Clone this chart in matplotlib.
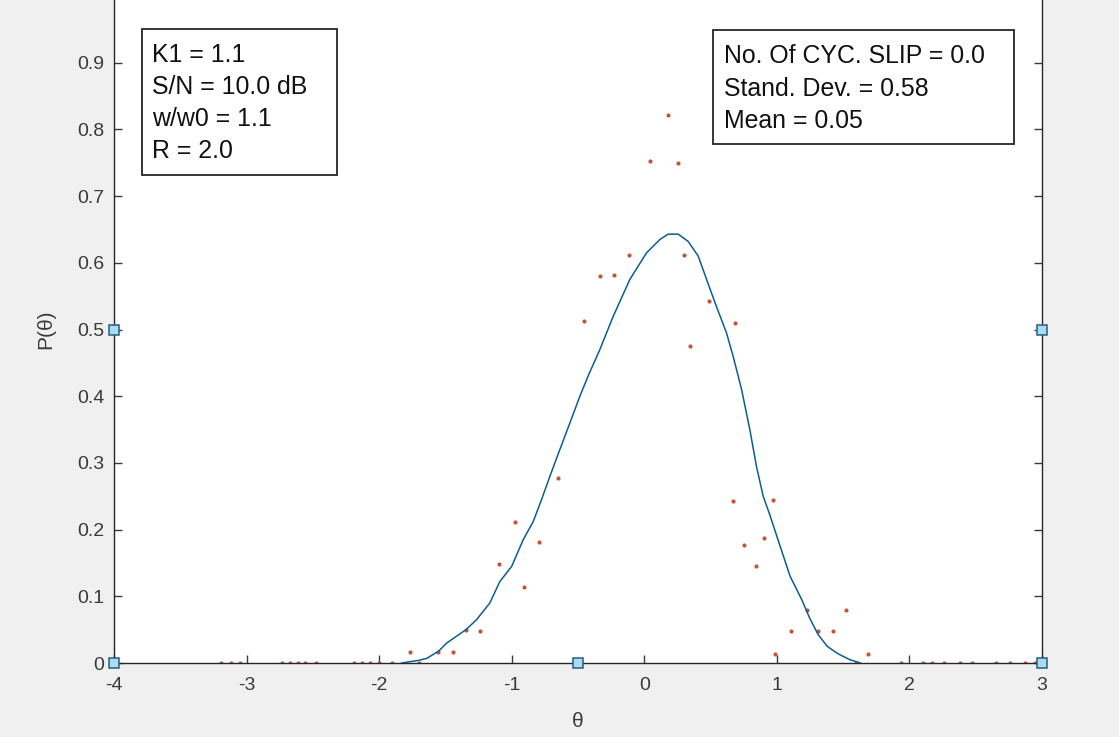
import matplotlib
matplotlib.use("Agg")
import matplotlib.pyplot as plt
from matplotlib.patches import Rectangle

plt.rcParams['font.family'] = ['Liberation Sans', 'DejaVu Sans']

# ---- data ----
curve_theta = [-1.83, -1.70, -1.64, -1.55, -1.49, -1.345, -1.265, -1.165, -1.09, -1.00,
               -0.913, -0.838, -0.775, -0.712, -0.637, -0.561, -0.486, -0.42, -0.335,
               -0.234, -0.109, 0.017, 0.118, 0.18, 0.256, 0.331, 0.407, 0.47, 0.545,
               0.62, 0.67, 0.734, 0.796, 0.847, 0.897, 0.947, 1.00, 1.05, 1.10, 1.19,
               1.246, 1.31, 1.38, 1.46, 1.55, 1.63]
curve_p = [0.0, 0.004, 0.007, 0.018, 0.030, 0.050, 0.065, 0.090, 0.122, 0.145,
           0.185, 0.212, 0.245, 0.280, 0.320, 0.360, 0.400, 0.432, 0.470,
           0.520, 0.575, 0.615, 0.635, 0.643, 0.643, 0.632, 0.610, 0.575, 0.534,
           0.495, 0.460, 0.410, 0.350, 0.294, 0.250, 0.222, 0.190, 0.160, 0.130, 0.094,
           0.068, 0.043, 0.025, 0.014, 0.005, 0.0]

dots_theta = [0.18, 0.042, 0.253, -0.116, -0.337, -0.227, 0.296, -0.458, 0.487, 0.688,
              0.346, -0.654, -0.976, -0.795, -1.097, -0.906, -1.238, -1.345, -1.768,
              -1.559, -1.446, 0.670, 0.751, 0.902, 0.844, 0.97, 0.987, 1.106, 1.23,
              1.313, 1.42, 1.52, 1.69,
              -3.19, -3.12, -3.05, -2.73, -2.67, -2.61, -2.56, -2.48, -2.19, -2.13,
              -2.07, -2.00, -1.90, -1.70, 1.60, 1.94, 2.10, 2.17, 2.26, 2.38, 2.47,
              2.65, 2.76, 2.87, 2.95]
dots_p = [0.822, 0.752, 0.750, 0.612, 0.580, 0.582, 0.612, 0.512, 0.543, 0.510,
          0.475, 0.277, 0.212, 0.181, 0.148, 0.114, 0.048, 0.050, 0.017,
          0.017, 0.017, 0.243, 0.177, 0.188, 0.145, 0.245, 0.013, 0.048, 0.080,
          0.048, 0.048, 0.080, 0.014,
          0, 0, 0, 0, 0, 0, 0, 0, 0, 0,
          0, 0, 0, 0, 0, 0, 0, 0, 0, 0, 0,
          0, 0, 0, 0]

marker_theta = [-4, -0.5, 3, -4, 3]
marker_p = [0, 0, 0, 0.5, 0.5]

xticks = [-4, -3, -2, -1, 0, 1, 2, 3]
yticks = [0, 0.1, 0.2, 0.3, 0.4, 0.5, 0.6, 0.7, 0.8, 0.9]
ytick_labels = ['0', '0.1', '0.2', '0.3', '0.4', '0.5', '0.6', '0.7', '0.8', '0.9']

box1_lines = ['K1 = 1.1', 'S/N = 10.0 dB', 'w/w0 = 1.1', 'R = 2.0']
box2_lines = ['No. Of CYC. SLIP = 0.0', 'Stand. Dev. = 0.58', 'Mean = 0.05']

# ---- figure ----
W, H = 1119, 737
fig = plt.figure(figsize=(W / 100, H / 100), dpi=100, facecolor='#f0f0f0')

def fx(px):
    return px / W

def fy(py):
    return 1 - py / H

ax_left, ax_right, ax_y0, ax_y1 = 114, 1042, 663, -4
ax = fig.add_axes([fx(ax_left), fy(ax_y0), (ax_right - ax_left) / W, (ax_y0 - ax_y1) / H])
ax.set_facecolor('white')
ax.set_xlim(-4, 3)
ax.set_ylim(0, 1)

dark = '#262626'
ax.plot(dots_theta, dots_p, linestyle='none', marker='o', markersize=3,
        color='#c0553a', markeredgewidth=0, zorder=2)
ax.plot(curve_theta, curve_p, color='#0a5f8f', linewidth=1.1, zorder=3)
ax.plot(marker_theta, marker_p, linestyle='none', marker='s', markersize=7,
        markerfacecolor='#a9dcf2', markeredgecolor='#22607e', markeredgewidth=1.1,
        clip_on=False, zorder=5)

ax.set_xticks(xticks)
ax.set_xticklabels([str(t) for t in xticks])
ax.set_yticks(yticks)
ax.set_yticklabels(ytick_labels)
ax.tick_params(axis='both', direction='in', length=6, width=1, colors='#3a3a3a',
               labelsize=14, right=True, top=False)
ax.tick_params(axis='x', pad=10)
ax.tick_params(axis='y', pad=7)
for s in ax.spines.values():
    s.set_color(dark)
    s.set_linewidth(1)

ax.set_xlabel('θ', fontsize=15, color='#3a3a3a', labelpad=13)
ax.set_ylabel('P(θ)', fontsize=15, color='#3a3a3a', labelpad=16)

# ---- annotation boxes ----
def draw_box(x0, y0, x1, y1, tx, baselines, lines):
    fig.patches.append(Rectangle((fx(x0), fy(y1)), (x1 - x0) / W, (y1 - y0) / H,
                                 transform=fig.transFigure, facecolor='white',
                                 edgecolor=dark, linewidth=1.3, zorder=10))
    for b, t in zip(baselines, lines):
        fig.text(fx(tx), fy(b), t, fontsize=17.9, color='#111111', va='baseline',
                 ha='left', zorder=11)

draw_box(142, 29, 337, 175, 152, [62, 94, 126, 158], box1_lines)
draw_box(713, 30, 1014, 144, 724, [63, 96, 128], box2_lines)

fig.savefig('out.png', dpi=100, facecolor=fig.get_facecolor())
